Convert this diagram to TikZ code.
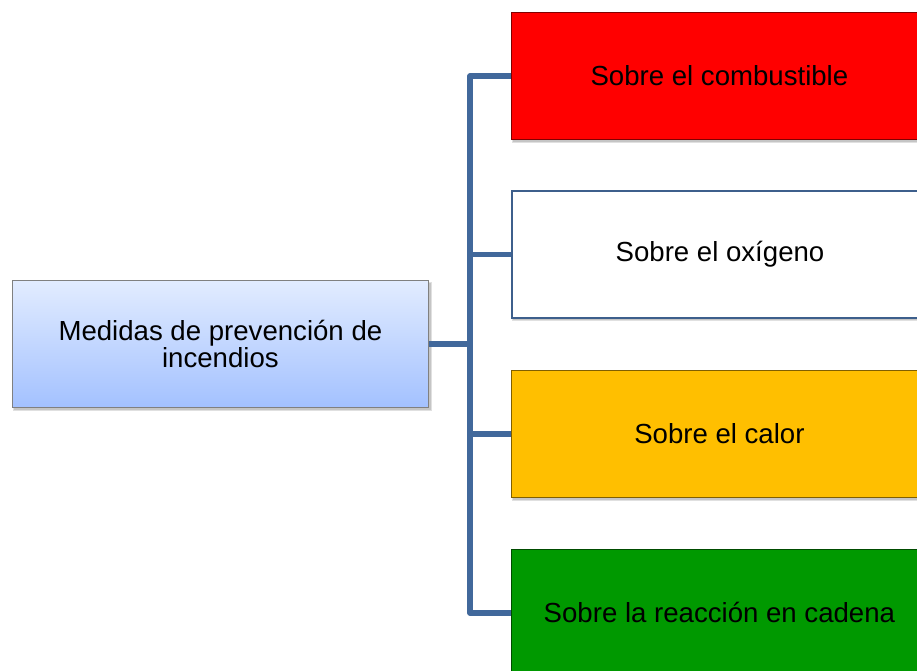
\documentclass[tikz,border=0pt]{standalone}
\usepackage{fontspec}
\setmainfont{Liberation Sans}
\definecolor{linkblue}{RGB}{65,104,155}
\definecolor{wborder}{RGB}{61,95,140}
\definecolor{cred}{RGB}{255,0,0}
\definecolor{corange}{RGB}{255,191,0}
\definecolor{cgreen}{RGB}{0,153,0}
\definecolor{gtop}{RGB}{226,236,255}
\definecolor{gbot}{RGB}{163,193,255}
\begin{document}
\begin{tikzpicture}[x=1pt,y=-1pt,
  boxtext/.style={font=\fontsize{27.6}{26.5}\selectfont, text=black, align=center},
  shadowbox/.style={fill=black, opacity=0.12},
  link/.style={draw=linkblue, line width=5.5pt, line cap=butt, line join=round}]
\useasboundingbox (0,0) rectangle (917,671);
\begin{scope}
\clip (0,0) rectangle (917,671);
% shadows
\fill[shadowbox] (14,283) rectangle (431,410);
\fill[shadowbox] (13,282) rectangle (432,411);
\foreach \ya in {12,190,370,549}{
  \fill[shadowbox] (513,\ya+3) rectangle (930,\ya+130);
  \fill[shadowbox] (512,\ya+2) rectangle (931,\ya+131);
}
% boxes
\node[draw=gray, line width=0.8pt, top color=gtop, bottom color=gbot, minimum width=416pt, minimum height=127pt, inner sep=0pt, anchor=north west, boxtext] (root) at (12,280) {Medidas de prevención de\\incendios};
\node[draw=cred!50!black, line width=0.8pt, fill=cred, minimum width=416pt, minimum height=127pt, inner sep=0pt, anchor=north west, boxtext] (b1) at (511,12) {Sobre el combustible};
\node[draw=wborder, line width=2pt, fill=white, minimum width=416pt, minimum height=127pt, inner sep=0pt, anchor=north west, boxtext] (b2) at (511,190) {Sobre el oxígeno};
\node[draw=corange!50!black, line width=0.8pt, fill=corange, minimum width=416pt, minimum height=127pt, inner sep=0pt, anchor=north west, boxtext] (b3) at (511,370) {Sobre el calor};
\node[draw=cgreen!50!black, line width=0.8pt, fill=cgreen, minimum width=416pt, minimum height=127pt, inner sep=0pt, anchor=north west, boxtext] (b4) at (511,549) {Sobre la reacción en cadena};
% connectors
\coordinate (trunk) at (470,0);
\draw[link] (root.east) -- (root.east -| trunk);
\draw[link] (b1.west) -- (b1.west -| trunk) -- (b4.west -| trunk) -- (b4.west);
\draw[link] (b2.west) -- (b2.west -| trunk);
\draw[link] (b3.west) -- (b3.west -| trunk);
\end{scope}
\end{tikzpicture}
\end{document}
